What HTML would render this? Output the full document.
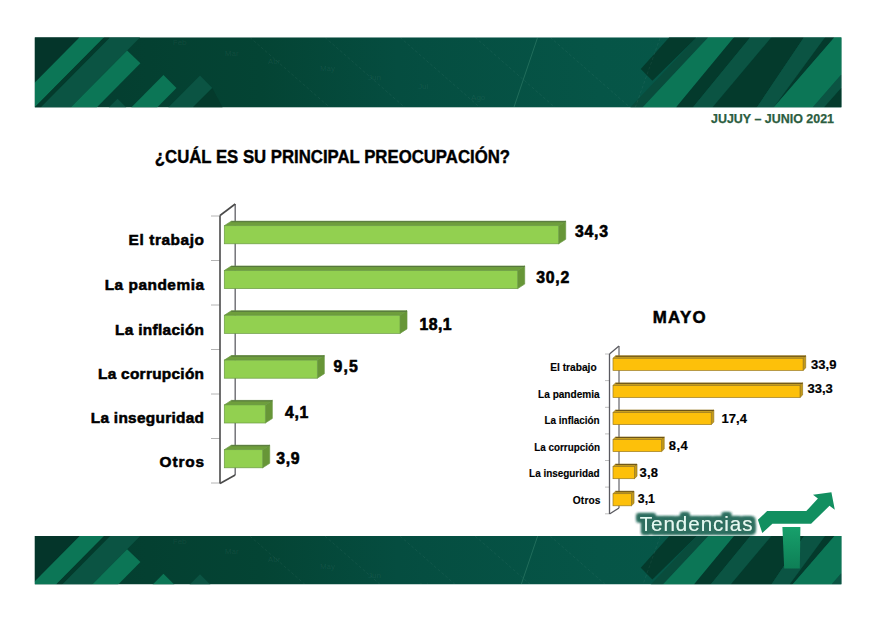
<!DOCTYPE html>
<html><head><meta charset="utf-8"><style>
html,body{margin:0;padding:0;background:#fff;width:879px;height:622px;overflow:hidden}
svg{display:block}
</style></head><body>
<svg width="879" height="622" viewBox="0 0 879 622" font-family="Liberation Sans, sans-serif">
<defs>
<linearGradient id="bg" x1="0" y1="0" x2="806" y2="0" gradientUnits="userSpaceOnUse">
<stop offset="0" stop-color="#043c2e"/><stop offset="0.28" stop-color="#044434"/><stop offset="0.45" stop-color="#054d40"/><stop offset="0.7" stop-color="#065547"/><stop offset="1" stop-color="#075a49"/>
</linearGradient>
<linearGradient id="stemg" x1="0" y1="0" x2="0" y2="1"><stop offset="0" stop-color="#17a06b"/><stop offset="1" stop-color="#0e7f56"/></linearGradient>
<clipPath id="c1"><rect x="0" y="0" width="806" height="69.5"/></clipPath>
<clipPath id="c2"><rect x="0" y="0" width="806" height="47.65"/></clipPath>
<g id="bn"><rect x="0" y="0" width="806" height="69.5" fill="url(#bg)"/>
<polygon points="0.0,0.0 45.0,0.0 0.0,45.0" fill="#04352a"/>
<polygon points="45.0,0.0 69.5,0.0 0.0,69.5 0.0,45.0" fill="#0c7656"/>
<polygon points="69.5,0.0 75.5,0.0 6.0,69.5 0.0,69.5" fill="#043a2c"/>
<polygon points="75.5,0.0 105.5,0.0 36.0,69.5 6.0,69.5" fill="#0b5443"/>
<polygon points="92.4,13.0 105.7,25.7 62.0,69.5 36.0,69.5" fill="#0c7656"/>
<polygon points="128.7,37.3 141.7,50.2 122.4,69.5 96.5,69.5" fill="#0c7656"/>
<polygon points="165.2,37.7 177.5,50.0 158.0,69.5 133.5,69.5" fill="#0b5443"/>
<polygon points="82.9,60.7 91.6,69.5 74.0,69.5" fill="#0b5443"/>
<polygon points="177.5,50.0 187.8,69.5 158.0,69.5" fill="#043a2c"/>
<polygon points="605.5,31.4 634.0,0.0 661.5,0.0 617.1,43.0" fill="#043a2c"/>
<polygon points="661.5,0.0 673.0,0.0 607.2,69.5 595.0,69.5" fill="#094c3c"/>
<polygon points="673.0,0.0 698.7,0.0 640.7,69.5 607.2,69.5" fill="#0c7656"/>
<polygon points="698.7,0.0 715.0,0.0 657.5,69.5 640.7,69.5" fill="#043a2c"/>
<polygon points="715.0,0.0 736.0,0.0 677.0,69.5 657.5,69.5" fill="#0b5443"/>
<polygon points="736.0,0.0 768.6,0.0 721.4,69.5 677.0,69.5" fill="#043a2c"/>
<polygon points="768.6,0.0 789.6,0.0 738.2,69.5 721.4,69.5" fill="#0b5443"/>
<polygon points="789.6,0.0 799.0,0.0 738.2,69.5" fill="#043a2c"/>
<polygon points="799.0,0.0 838.0,0.0 777.2,69.5 738.2,69.5" fill="#0c7656"/>
<polygon points="838.0,0.0 850.0,0.0 788.4,69.5 777.2,69.5" fill="#0b5443"/>
<polygon points="850.0,0.0 868.0,0.0 806.4,69.5 788.4,69.5" fill="#043a2c"/>
<line x1="502.5" y1="0" x2="478.7" y2="69.5" stroke="#8fd9b8" stroke-opacity="0.22" stroke-width="0.9"/>
<g stroke="#ffffff" stroke-opacity="0.07" stroke-width="0.8" stroke-dasharray="3 2"><line x1="215.0" y1="0" x2="295.0" y2="69.5"/><line x1="290.0" y1="0" x2="370.0" y2="69.5"/><line x1="365.0" y1="0" x2="445.0" y2="69.5"/><line x1="440.0" y1="0" x2="520.0" y2="69.5"/><line x1="515.0" y1="0" x2="595.0" y2="69.5"/><line x1="600" y1="69.5" x2="625" y2="0"/></g>
<text x="138" y="8" font-size="8" fill="#ffffff" fill-opacity="0.07">Feb</text>
<text x="190" y="18" font-size="8" fill="#ffffff" fill-opacity="0.07">Mar</text>
<text x="233" y="26" font-size="8" fill="#ffffff" fill-opacity="0.07">Abr</text>
<text x="285" y="33" font-size="8" fill="#ffffff" fill-opacity="0.07">May</text>
<text x="333" y="42" font-size="8" fill="#ffffff" fill-opacity="0.07">Jun</text>
<text x="383" y="51" font-size="8" fill="#ffffff" fill-opacity="0.07">Jul</text>
<text x="436" y="62" font-size="8" fill="#ffffff" fill-opacity="0.07">Ago</text>
</g>
<filter id="glow" x="-20%" y="-60%" width="140%" height="220%">
<feMorphology in="SourceAlpha" operator="dilate" radius="2.6" result="d"/>
<feGaussianBlur in="d" stdDeviation="1.7" result="b"/>
<feFlood flood-color="#2f6f60"/><feComposite in2="b" operator="in" result="g"/>
<feMerge><feMergeNode in="g"/><feMergeNode in="g"/><feMergeNode in="g"/><feMergeNode in="SourceGraphic"/></feMerge>
</filter>
</defs>
<g transform="translate(34.6,37.3) scale(1.0011,1.0115)"><g clip-path="url(#c1)"><use href="#bn"/></g></g>
<g transform="translate(34.6,536) scale(1.0011,1.0115)"><g clip-path="url(#c2)"><use href="#bn"/></g></g>
<g fill="none"><g stroke="#b4b4b4" stroke-width="1"><line x1="211" y1="216.0" x2="219.8" y2="216.0"/><line x1="211" y1="260.5" x2="219.8" y2="260.5"/><line x1="211" y1="305.0" x2="219.8" y2="305.0"/><line x1="211" y1="349.5" x2="219.8" y2="349.5"/><line x1="211" y1="394.0" x2="219.8" y2="394.0"/><line x1="211" y1="438.5" x2="219.8" y2="438.5"/><line x1="211" y1="483.0" x2="219.8" y2="483.0"/></g><line x1="235.2" y1="204" x2="235.2" y2="475" stroke="#6a6a70" stroke-width="1.4"/><g stroke="#4a4a4a" stroke-width="1.6"><line x1="220" y1="215.5" x2="220" y2="483.5"/><line x1="220" y1="215.5" x2="235.2" y2="204"/><line x1="220" y1="483.5" x2="235.2" y2="475"/></g></g>
<polygon points="224.3,225.7 231.3,221.2 565.7,221.2 558.7,225.7" fill="#6e9e3c" stroke="#6a9a44" stroke-width="0.7"/>
<polygon points="558.7,225.7 565.7,221.2 565.7,239.3 558.7,243.8" fill="#679637" stroke="#6a9a44" stroke-width="0.7"/>
<rect x="224.3" y="225.7" width="334.4" height="18.1" fill="#92d050" stroke="#6a9a44" stroke-width="0.7"/>
<line x1="231.3" y1="221.7" x2="565.7" y2="221.7" stroke="#56763e" stroke-width="1"/>
<polygon points="224.3,270.5 231.3,266.0 524.7,266.0 517.7,270.5" fill="#6e9e3c" stroke="#6a9a44" stroke-width="0.7"/>
<polygon points="517.7,270.5 524.7,266.0 524.7,284.1 517.7,288.6" fill="#679637" stroke="#6a9a44" stroke-width="0.7"/>
<rect x="224.3" y="270.5" width="293.4" height="18.1" fill="#92d050" stroke="#6a9a44" stroke-width="0.7"/>
<line x1="231.3" y1="266.5" x2="524.7" y2="266.5" stroke="#56763e" stroke-width="1"/>
<polygon points="224.3,315.3 231.3,310.8 407.0,310.8 400.0,315.3" fill="#6e9e3c" stroke="#6a9a44" stroke-width="0.7"/>
<polygon points="400.0,315.3 407.0,310.8 407.0,328.9 400.0,333.4" fill="#679637" stroke="#6a9a44" stroke-width="0.7"/>
<rect x="224.3" y="315.3" width="175.7" height="18.1" fill="#92d050" stroke="#6a9a44" stroke-width="0.7"/>
<line x1="231.3" y1="311.3" x2="407.0" y2="311.3" stroke="#56763e" stroke-width="1"/>
<polygon points="224.3,360.1 231.3,355.6 324.3,355.6 317.3,360.1" fill="#6e9e3c" stroke="#6a9a44" stroke-width="0.7"/>
<polygon points="317.3,360.1 324.3,355.6 324.3,373.7 317.3,378.2" fill="#679637" stroke="#6a9a44" stroke-width="0.7"/>
<rect x="224.3" y="360.1" width="93.0" height="18.1" fill="#92d050" stroke="#6a9a44" stroke-width="0.7"/>
<line x1="231.3" y1="356.1" x2="324.3" y2="356.1" stroke="#56763e" stroke-width="1"/>
<polygon points="224.3,404.9 231.3,400.4 272.3,400.4 265.3,404.9" fill="#6e9e3c" stroke="#6a9a44" stroke-width="0.7"/>
<polygon points="265.3,404.9 272.3,400.4 272.3,418.5 265.3,423.0" fill="#679637" stroke="#6a9a44" stroke-width="0.7"/>
<rect x="224.3" y="404.9" width="41.0" height="18.1" fill="#92d050" stroke="#6a9a44" stroke-width="0.7"/>
<line x1="231.3" y1="400.9" x2="272.3" y2="400.9" stroke="#56763e" stroke-width="1"/>
<polygon points="224.3,449.7 231.3,445.2 269.7,445.2 262.7,449.7" fill="#6e9e3c" stroke="#6a9a44" stroke-width="0.7"/>
<polygon points="262.7,449.7 269.7,445.2 269.7,463.3 262.7,467.8" fill="#679637" stroke="#6a9a44" stroke-width="0.7"/>
<rect x="224.3" y="449.7" width="38.4" height="18.1" fill="#92d050" stroke="#6a9a44" stroke-width="0.7"/>
<line x1="231.3" y1="445.7" x2="269.7" y2="445.7" stroke="#56763e" stroke-width="1"/>
<g fill="none"><g stroke="#c0c0c0" stroke-width="1"><line x1="605" y1="354.0" x2="609" y2="354.0"/><line x1="605" y1="380.6" x2="609" y2="380.6"/><line x1="605" y1="407.3" x2="609" y2="407.3"/><line x1="605" y1="433.9" x2="609" y2="433.9"/><line x1="605" y1="460.5" x2="609" y2="460.5"/><line x1="605" y1="487.1" x2="609" y2="487.1"/><line x1="605" y1="513.8" x2="609" y2="513.8"/></g><line x1="619" y1="346.1" x2="619" y2="508" stroke="#707076" stroke-width="1.3"/><g stroke="#5a5a60" stroke-width="1.3"><line x1="609.5" y1="354" x2="609.5" y2="514"/><line x1="609.5" y1="354" x2="619" y2="346.1"/><line x1="609.5" y1="514" x2="619" y2="508"/></g></g>
<polygon points="613.0,358.3 615.6,355.8 805.7,355.8 803.1,358.3" fill="#c9a020" stroke="#9a7a20" stroke-width="0.7"/>
<polygon points="803.1,358.3 805.7,355.8 805.7,367.9 803.1,370.4" fill="#c49a18" stroke="#9a7a20" stroke-width="0.7"/>
<rect x="613.0" y="358.3" width="190.1" height="12.1" fill="#fdc00a" stroke="#9a7a20" stroke-width="0.7"/>
<line x1="615.6" y1="356.3" x2="805.7" y2="356.3" stroke="#6b5318" stroke-width="1"/>
<polygon points="613.0,385.4 615.6,382.9 802.6,382.9 800.0,385.4" fill="#c9a020" stroke="#9a7a20" stroke-width="0.7"/>
<polygon points="800.0,385.4 802.6,382.9 802.6,395.0 800.0,397.5" fill="#c49a18" stroke="#9a7a20" stroke-width="0.7"/>
<rect x="613.0" y="385.4" width="187.0" height="12.1" fill="#fdc00a" stroke="#9a7a20" stroke-width="0.7"/>
<line x1="615.6" y1="383.4" x2="802.6" y2="383.4" stroke="#6b5318" stroke-width="1"/>
<polygon points="613.0,412.5 615.6,410.0 713.8,410.0 711.2,412.5" fill="#c9a020" stroke="#9a7a20" stroke-width="0.7"/>
<polygon points="711.2,412.5 713.8,410.0 713.8,422.1 711.2,424.6" fill="#c49a18" stroke="#9a7a20" stroke-width="0.7"/>
<rect x="613.0" y="412.5" width="98.2" height="12.1" fill="#fdc00a" stroke="#9a7a20" stroke-width="0.7"/>
<line x1="615.6" y1="410.5" x2="713.8" y2="410.5" stroke="#6b5318" stroke-width="1"/>
<polygon points="613.0,439.5 615.6,437.0 664.2,437.0 661.6,439.5" fill="#c9a020" stroke="#9a7a20" stroke-width="0.7"/>
<polygon points="661.6,439.5 664.2,437.0 664.2,449.1 661.6,451.6" fill="#c49a18" stroke="#9a7a20" stroke-width="0.7"/>
<rect x="613.0" y="439.5" width="48.6" height="12.1" fill="#fdc00a" stroke="#9a7a20" stroke-width="0.7"/>
<line x1="615.6" y1="437.5" x2="664.2" y2="437.5" stroke="#6b5318" stroke-width="1"/>
<polygon points="613.0,466.6 615.6,464.1 637.0,464.1 634.4,466.6" fill="#c9a020" stroke="#9a7a20" stroke-width="0.7"/>
<polygon points="634.4,466.6 637.0,464.1 637.0,476.2 634.4,478.7" fill="#c49a18" stroke="#9a7a20" stroke-width="0.7"/>
<rect x="613.0" y="466.6" width="21.4" height="12.1" fill="#fdc00a" stroke="#9a7a20" stroke-width="0.7"/>
<line x1="615.6" y1="464.6" x2="637.0" y2="464.6" stroke="#6b5318" stroke-width="1"/>
<polygon points="613.0,493.7 615.6,491.2 634.0,491.2 631.4,493.7" fill="#c9a020" stroke="#9a7a20" stroke-width="0.7"/>
<polygon points="631.4,493.7 634.0,491.2 634.0,503.3 631.4,505.8" fill="#c49a18" stroke="#9a7a20" stroke-width="0.7"/>
<rect x="613.0" y="493.7" width="18.4" height="12.1" fill="#fdc00a" stroke="#9a7a20" stroke-width="0.7"/>
<line x1="615.6" y1="491.7" x2="634.0" y2="491.7" stroke="#6b5318" stroke-width="1"/>
<text x="154.8" y="162.6" font-size="18.40" font-weight="bold" fill="#000" textLength="355.2" lengthAdjust="spacingAndGlyphs" stroke="#000" stroke-width="0.4">¿CUÁL ES SU PRINCIPAL PREOCUPACIÓN?</text>
<text x="128.6" y="245.2" font-size="15.40" font-weight="bold" fill="#000" textLength="75.4" lengthAdjust="spacing" stroke="#000" stroke-width="0.55">El trabajo</text>
<text x="104.7" y="290.0" font-size="15.40" font-weight="bold" fill="#000" textLength="99.3" lengthAdjust="spacing" stroke="#000" stroke-width="0.55">La pandemia</text>
<text x="115.0" y="334.7" font-size="15.40" font-weight="bold" fill="#000" textLength="89.0" lengthAdjust="spacing" stroke="#000" stroke-width="0.55">La inflación</text>
<text x="98.0" y="378.8" font-size="15.40" font-weight="bold" fill="#000" textLength="106.0" lengthAdjust="spacing" stroke="#000" stroke-width="0.55">La corrupción</text>
<text x="90.7" y="423.1" font-size="15.40" font-weight="bold" fill="#000" textLength="113.3" lengthAdjust="spacing" stroke="#000" stroke-width="0.55">La inseguridad</text>
<text x="159.6" y="467.2" font-size="15.40" font-weight="bold" fill="#000" textLength="44.4" lengthAdjust="spacing" stroke="#000" stroke-width="0.55">Otros</text>
<text x="575.1" y="236.7" font-size="15.80" font-weight="bold" fill="#000" textLength="32.9" lengthAdjust="spacing" stroke="#000" stroke-width="0.6">34,3</text>
<text x="536.2" y="282.7" font-size="15.80" font-weight="bold" fill="#000" textLength="33.0" lengthAdjust="spacing" stroke="#000" stroke-width="0.6">30,2</text>
<text x="419.4" y="329.6" font-size="15.80" font-weight="bold" fill="#000" textLength="32.2" lengthAdjust="spacing" stroke="#000" stroke-width="0.6">18,1</text>
<text x="333.6" y="371.9" font-size="15.80" font-weight="bold" fill="#000" textLength="24.1" lengthAdjust="spacing" stroke="#000" stroke-width="0.6">9,5</text>
<text x="284.9" y="418.1" font-size="15.80" font-weight="bold" fill="#000" textLength="23.5" lengthAdjust="spacing" stroke="#000" stroke-width="0.6">4,1</text>
<text x="276.2" y="463.8" font-size="15.80" font-weight="bold" fill="#000" textLength="23.4" lengthAdjust="spacing" stroke="#000" stroke-width="0.6">3,9</text>
<text x="652.8" y="323.3" font-size="16.90" font-weight="bold" fill="#000" textLength="52.8" lengthAdjust="spacing" stroke="#000" stroke-width="0.5">MAYO</text>
<text x="550.3" y="370.6" font-size="10.20" font-weight="bold" fill="#000" textLength="46.3" lengthAdjust="spacingAndGlyphs" stroke="#000" stroke-width="0.15">El trabajo</text>
<text x="538.1" y="397.8" font-size="10.20" font-weight="bold" fill="#000" textLength="61.5" lengthAdjust="spacingAndGlyphs" stroke="#000" stroke-width="0.15">La pandemia</text>
<text x="544.5" y="423.5" font-size="10.20" font-weight="bold" fill="#000" textLength="55.1" lengthAdjust="spacingAndGlyphs" stroke="#000" stroke-width="0.15">La inflación</text>
<text x="534.3" y="450.6" font-size="10.20" font-weight="bold" fill="#000" textLength="65.7" lengthAdjust="spacingAndGlyphs" stroke="#000" stroke-width="0.15">La corrupción</text>
<text x="529.1" y="477.3" font-size="10.20" font-weight="bold" fill="#000" textLength="70.5" lengthAdjust="spacingAndGlyphs" stroke="#000" stroke-width="0.15">La inseguridad</text>
<text x="572.8" y="504.3" font-size="10.20" font-weight="bold" fill="#000" textLength="27.7" lengthAdjust="spacing" stroke="#000" stroke-width="0.15">Otros</text>
<text x="811.1" y="368.9" font-size="13.00" font-weight="bold" fill="#000" textLength="25.3" lengthAdjust="spacing" stroke="#000" stroke-width="0.2">33,9</text>
<text x="807.4" y="393.1" font-size="13.00" font-weight="bold" fill="#000" textLength="25.4" lengthAdjust="spacing" stroke="#000" stroke-width="0.2">33,3</text>
<text x="721.4" y="422.9" font-size="13.00" font-weight="bold" fill="#000" textLength="25.5" lengthAdjust="spacing" stroke="#000" stroke-width="0.2">17,4</text>
<text x="668.7" y="450.3" font-size="13.00" font-weight="bold" fill="#000" textLength="19.0" lengthAdjust="spacing" stroke="#000" stroke-width="0.2">8,4</text>
<text x="639.5" y="476.7" font-size="13.00" font-weight="bold" fill="#000" textLength="18.5" lengthAdjust="spacing" stroke="#000" stroke-width="0.2">3,8</text>
<text x="637.8" y="502.9" font-size="13.00" font-weight="bold" fill="#000" textLength="17.2" lengthAdjust="spacingAndGlyphs" stroke="#000" stroke-width="0.2">3,1</text>
<text x="711.0" y="122.7" font-size="12.80" font-weight="bold" fill="#2b5d40" textLength="123.0" lengthAdjust="spacingAndGlyphs" stroke="#2b5d40" stroke-width="0.25">JUJUY – JUNIO 2021</text>
<polygon points="782.4,527.1 800.4,527.1 799.8,568.4 784.2,568.4" fill="url(#stemg)"/>
<polygon points="767.1,511.1 806.3,511.1 817.9,498.5 813.0,494.7 831.4,492.3 834.8,509.7 829.5,505.8 811.1,523.7 772.4,523.7 762.3,532.9 757.9,519.8" fill="#128f60"/>
<text x="639.8" y="530.5" font-size="20.60" font-weight="normal" fill="#e2faf1" textLength="112.7" lengthAdjust="spacing" filter="url(#glow)">Tendencias</text>
</svg>
</body></html>
